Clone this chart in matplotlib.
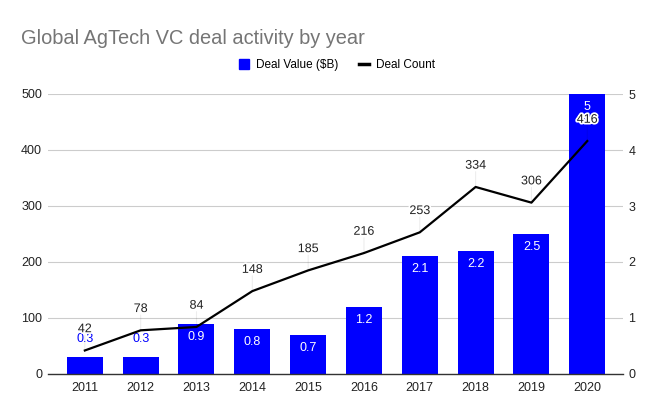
import matplotlib
matplotlib.use("Agg")
import matplotlib.pyplot as plt
import matplotlib.patheffects as pe
from matplotlib.patches import Patch
from matplotlib.lines import Line2D

years = ["2011", "2012", "2013", "2014", "2015", "2016", "2017", "2018", "2019", "2020"]
deal_value = [0.3, 0.3, 0.9, 0.8, 0.7, 1.2, 2.1, 2.2, 2.5, 5]
deal_count = [42, 78, 84, 148, 185, 216, 253, 334, 306, 416]
value_labels = ["0.3", "0.3", "0.9", "0.8", "0.7", "1.2", "2.1", "2.2", "2.5", "5"]

BLUE = "#0000ff"
plt.rcParams["font.family"] = ["Liberation Sans", "DejaVu Sans"]

fig = plt.figure(figsize=(6.72, 4.15), dpi=100)
ax = fig.add_axes([48 / 672, 1 - 374 / 415, 575 / 672, 280 / 415])
ax2 = ax.twinx()   # line axis (0-500), ticks on the left
x = list(range(len(years)))

# bars on the right axis (0-5)
ax.bar(x, deal_value, width=0.645, color=BLUE, zorder=2)
ax.set_ylim(0, 5)
ax.set_xlim(-0.66, 9.64)
ax.yaxis.tick_right()
ax.set_yticks([0, 1, 2, 3, 4, 5])
ax.tick_params(axis="y", length=0, pad=3.8, labelsize=9, labelcolor="#222222")
ax.set_xticks(x, years)
ax.tick_params(axis="x", length=0, pad=6, labelsize=9, labelcolor="#222222")
ax.grid(axis="y", color="#cccccc", lw=0.8, zorder=0)
ax.set_axisbelow(True)
for s in ["top", "left", "right"]:
    ax.spines[s].set_visible(False)
ax.spines["bottom"].set_color("#333333")
ax.spines["bottom"].set_linewidth(1)

for xi, v, lab in zip(x, deal_value, value_labels):
    if v < 0.5:
        ax.annotate(lab, (xi, v), xytext=(0, 9), textcoords="offset points",
                    ha="center", va="bottom", fontsize=9, color=BLUE)
    else:
        ax.annotate(lab, (xi, v), xytext=(0, -5), textcoords="offset points",
                    ha="center", va="top", fontsize=9, color="white")

ax2.plot(x, deal_count, color="black", lw=1.6, zorder=3)
ax2.set_ylim(0, 500)
ax2.yaxis.tick_left()
ax2.set_yticks([0, 100, 200, 300, 400, 500])
ax2.tick_params(axis="y", length=0, pad=4.3, labelsize=9, labelcolor="#222222")
for s in ax2.spines.values():
    s.set_visible(False)

halo = [pe.withStroke(linewidth=2.5, foreground="white")]
for xi, c in zip(x, deal_count):
    # faint leader from point to its label
    ax2.annotate("", (xi, c), xytext=(0, 11), textcoords="offset points",
                 arrowprops=dict(arrowstyle="-", color="black", alpha=0.07,
                                 lw=0.8, shrinkA=0, shrinkB=0))
    ax2.annotate(str(c), (xi, c), xytext=(0, 11), textcoords="offset points",
                 ha="center", va="bottom", fontsize=9, color="#222222",
                 path_effects=halo)

fig.text(21 / 672, 1 - 38 / 415, "Global AgTech VC deal activity by year",
         fontsize=14.4, color="#757575", ha="left", va="center")

handles = [Patch(facecolor=BLUE, edgecolor=BLUE),
           Line2D([0], [0], color="black", lw=2.5)]
fig.legend(handles, ["Deal Value ($B)", "Deal Count"], loc="center",
           bbox_to_anchor=(337 / 672, 1 - 65 / 415), ncol=2, frameon=False,
           fontsize=8.5, handlelength=0.8, handleheight=0.9, handletextpad=0.6,
           columnspacing=1.8)

fig.savefig("out.png", dpi=100, facecolor="white")
